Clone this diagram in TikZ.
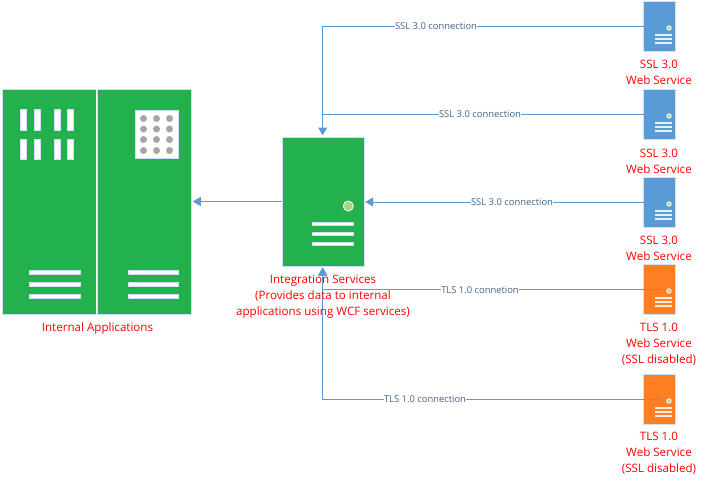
\documentclass[tikz,border=0pt]{standalone}
\usepackage{fontspec}
\setmainfont{Open Sans}
\usetikzlibrary{arrows.meta}
\definecolor{grn}{HTML}{23B14D}
\definecolor{blu}{HTML}{5B9BD5}
\definecolor{org}{HTML}{FD7E23}
\definecolor{edge}{HTML}{CFE0F3}
\definecolor{lbl}{HTML}{44628A}
\tikzset{
  x=1pt,y=-1pt,
  box/.style={draw=edge,line width=.3pt,inner sep=0pt,outer sep=0pt,rectangle},
  srv/.style={box,minimum width=31.5pt,minimum height=50pt,fill=#1},
  conn/.style={draw=blu,line width=1pt,-{Triangle[length=8pt,width=9pt]},shorten >=1.5pt},
  plainconn/.style={draw=blu,line width=1pt},
  clabel/.style={font=\fontsize{9.4}{11}\selectfont,text=lbl,fill=white,inner sep=.5pt},
  rlabel/.style={font=\fontsize{11.6}{16.2}\selectfont,text=red,align=center,inner sep=0pt},
  bar/.style={fill=white,draw=edge,line width=.5pt},
  bar2/.style={fill=white,draw=edge,line width=.3pt},
}
\newcommand{\srvdeco}[2]{% x-left, y-top
  \fill[white] (#1+25.5,#2+27) circle (2.7);
  \fill[green!50!lime!40!gray!60] (#1+25.5,#2+27) circle (1.8);
  \foreach \d in {34,38,42}{\fill[white,opacity=.85] (#1+11.5,#2+\d-1) rectangle (#1+28,#2+\d+.6);}
}
\begin{document}
\begin{tikzpicture}
\useasboundingbox (0,0) rectangle (705,485);
% racks
\node[box,fill=grn,minimum width=94.5pt,minimum height=225pt] (rackL) at (49,201.5) {};
\node[box,fill=grn,minimum width=94.5pt,minimum height=225pt] (rackR) at (144,201.5) {};
\draw[white,line width=1pt] (rackR.north west) -- (rackR.south west);
\foreach \a in {20,34,54,67}{
  \foreach \b/\c in {109/130,139/159}{
    \draw[bar] (\a,\b) rectangle (\a+6,\c);
  }
}
\foreach \b in {270,282,294}{
  \draw[bar] (29.5,\b) rectangle (80,\b+4.5);
  \draw[bar] (128,\b) rectangle (178,\b+4.5);
}
\draw[bar] (135.5,110.5) rectangle (178,158.5);
\foreach \a in {143.5,156.5,169.5}{
  \foreach \b in {118.5,129,139.5,150.5}{
    \fill[black!35] (\a,\b) circle (3.5);
  }
}
% integration
\node[box,fill=grn,minimum width=82pt,minimum height=129pt] (int) at (322.7,201.5) {};
\fill[white] (348.3,206) circle (5.5);
\fill[green!35!olive!50!white] (348.3,206) circle (4.5);
\foreach \b in {224,234,244}{\draw[bar2] (312.5,\b-1.5) rectangle (353.5,\b+1.5);}
% servers
\node[srv=blu] (s1) at (659.3,26) {};
\node[srv=blu] (s2) at (659.3,114) {};
\node[srv=blu] (s3) at (659.3,202) {};
\node[srv=org] (s4) at (659.3,289.5) {};
\node[srv=org] (s5) at (659.3,399) {};
\srvdeco{643.5}{1}\srvdeco{643.5}{89}\srvdeco{643.5}{177}\srvdeco{643.5}{264}\srvdeco{643.5}{374}
% connectors
\draw[conn] (s1.center) -| (int.north);
\draw[plainconn] (s2.center) -- (s2.center -| int.north);
\draw[conn] (s3.center) -- (int.east |- s3.center);
\draw[conn] (s4.center) -| (int.south);
\draw[conn] (s5.center) -| (int.south);
\draw[conn] (int.west) -- (rackR.east);
% connector labels
\node[clabel] (l1) at (436,26.5) {SSL 3.0 connection};
\node[clabel] (l2) at (480,114.5) {SSL 3.0 connection};
\node[clabel] (l3) at (512,202.5) {SSL 3.0 connection};
\node[clabel] (l4) at (480,290) {TLS 1.0 connetion};
\node[clabel] (l5) at (425,399.5) {TLS 1.0 connection};
% red labels
\node[rlabel] (t0) at (97.5,328) {Internal Applications};
\node[rlabel] (ti) at (323,296.5) {Integration Services\\(Provides data to internal\\applications using WCF services)};
\node[rlabel] (t1) at (659,72) {SSL 3.0\\Web Service};
\node[rlabel] (t2) at (659,161) {SSL 3.0\\Web Service};
\node[rlabel] (t3) at (659,248.5) {SSL 3.0\\Web Service};
\node[rlabel] (t4) at (659,344.5) {TLS 1.0\\Web Service\\(SSL disabled)};
\node[rlabel] (t5) at (659,453.5) {TLS 1.0\\Web Service\\(SSL disabled)};
\end{tikzpicture}
\end{document}
